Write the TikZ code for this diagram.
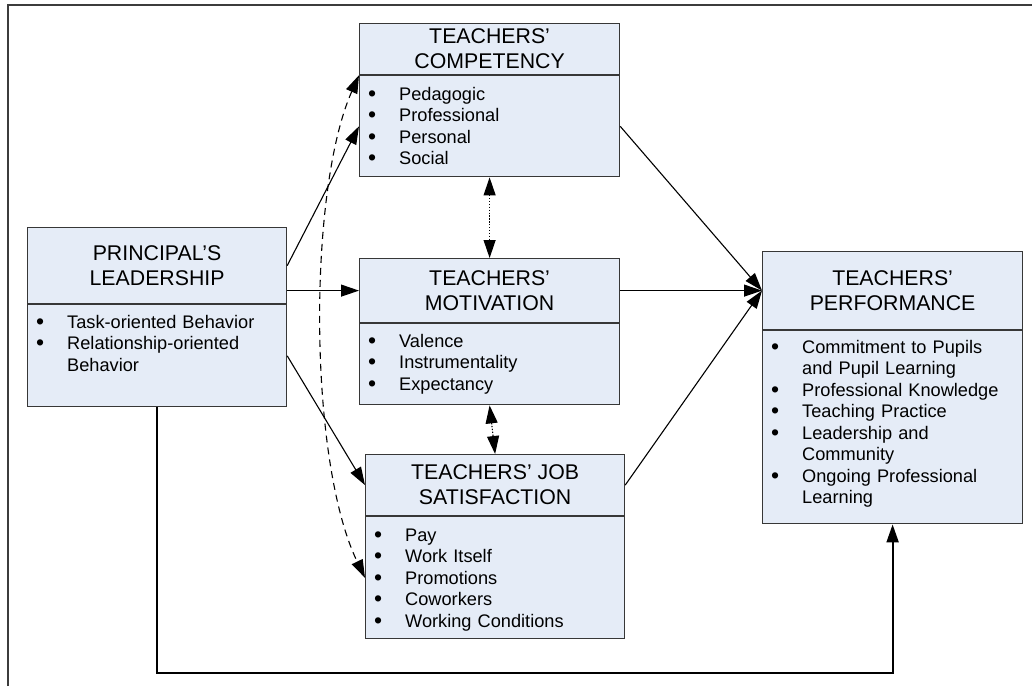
\documentclass[tikz,border=0pt]{standalone}
\usepackage{fontspec}
\setmainfont{Liberation Sans}
\usetikzlibrary{arrows.meta,calc}
\definecolor{boxfill}{RGB}{229,236,247}
\definecolor{boxline}{RGB}{55,55,55}
\definecolor{frameline}{RGB}{60,60,60}
% bullet item and continuation line for the box lists
\newcommand\bdot{\raisebox{-0.8pt}{\fontsize{23}{21.5}\selectfont\textbullet}}
\newcommand\bitem[1]{\makebox[31pt][l]{\bdot}#1}
\newcommand\bcont[1]{\hspace*{31pt}#1}
\begin{document}
\begin{tikzpicture}[x=1pt,y=-1pt,
  box/.style={draw=boxline, line width=1.2pt, fill=boxfill, inner sep=0pt, anchor=north west},
  title/.style={font=\fontsize{21.3}{25}\selectfont, align=center},
  items/.style={font=\fontsize{18.2}{21.5}\selectfont, text width=240pt, align=left, inner sep=0pt, anchor=base west},
  tip/.tip={Triangle[length=18pt,width=12pt]},
  link/.style={draw=black, line width=1.1pt, -tip},
  biglink/.style={draw=black, line width=2pt, -{Triangle[length=18pt,width=12pt]}},
  dotlink/.style={draw=black, line width=1.1pt, dash pattern=on 1.3pt off 1.6pt, tip-tip},
  dashlink/.style={draw=black, line width=1.1pt, dash pattern=on 7pt off 5pt, tip-tip}
]
\useasboundingbox (0,0) rectangle (1032,686);
% page frame (top and left edges)
\draw[frameline, line width=1.8pt] (8,686) -- (8,5) -- (1032,5);

% Principal's leadership
\node[box, title, minimum width=259pt, minimum height=76pt] (pl) at (27,227) {PRINCIPAL’S\\LEADERSHIP};
\node[box, minimum width=259pt, minimum height=102pt] (plb) at (pl.south west) {};
\node[items] (pll) at ($(plb.north west)+(9,24)$)
  {\bitem{Task-oriented Behavior}\\\bitem{Relationship-oriented}\\\bcont{Behavior}};

% Teachers' competency
\node[box, title, minimum width=260pt, minimum height=51pt] (comp) at (359,23) {TEACHERS’\\COMPETENCY};
\node[box, minimum width=260pt, minimum height=101pt] (compb) at (comp.south west) {};
\node[items] (compl) at ($(compb.north west)+(9,25)$)
  {\bitem{Pedagogic}\\\bitem{Professional}\\\bitem{Personal}\\\bitem{Social}};

% Teachers' motivation
\node[box, title, minimum width=260pt, minimum height=64pt] (mot) at (359,258) {TEACHERS’\\MOTIVATION};
\node[box, minimum width=260pt, minimum height=81pt] (motb) at (mot.south west) {};
\node[items] (motl) at ($(motb.north west)+(9,24)$)
  {\bitem{Valence}\\\bitem{Instrumentality}\\\bitem{Expectancy}};

% Teachers' job satisfaction
\node[box, title, minimum width=259pt, minimum height=61pt] (job) at (365,454) {TEACHERS’ JOB\\SATISFACTION};
\node[box, minimum width=259pt, minimum height=122pt] (jobb) at (job.south west) {};
\node[items] (jobl) at ($(jobb.north west)+(9,25)$)
  {\bitem{Pay}\\\bitem{Work Itself}\\\bitem{Promotions}\\\bitem{Coworkers}\\\bitem{Working Conditions}};

% Teachers' performance
\node[box, title, minimum width=260pt, minimum height=78pt] (perf) at (762,251) {TEACHERS’\\PERFORMANCE};
\node[box, minimum width=260pt, minimum height=193pt] (perfb) at (perf.south west) {};
\node[items] (perfl) at ($(perfb.north west)+(9,23)$)
  {\bitem{Commitment to Pupils}\\\bcont{and Pupil Learning}\\\bitem{Professional Knowledge}\\\bitem{Teaching Practice}\\\bitem{Leadership and}\\\bcont{Community}\\\bitem{Ongoing Professional}\\\bcont{Learning}};

% connectors from the principal's leadership
\draw[link] (pl.east) -- (compb.west);
\draw[link] (pl.east |- mot.west) -- (mot.west);
\draw[link] (plb.east) -- (job.west);
\draw[biglink] (plb.south) -- (plb.south |- 0,673) -| (perfb.south);

% connectors into the teachers' performance
\draw[link] (compb.east) -- (perf.west);
\draw[link] (mot.east) -- (perf.west);
\draw[link] (job.east) -- (perf.west);

% mutual relations
\draw[dotlink] (compb.south) -- (mot.north);
\draw[dotlink] (motb.south) -- (job.north);
\draw[dashlink] (compb.north west) .. controls (308,190) and (308,460) .. (jobb.west);
\end{tikzpicture}
\end{document}
